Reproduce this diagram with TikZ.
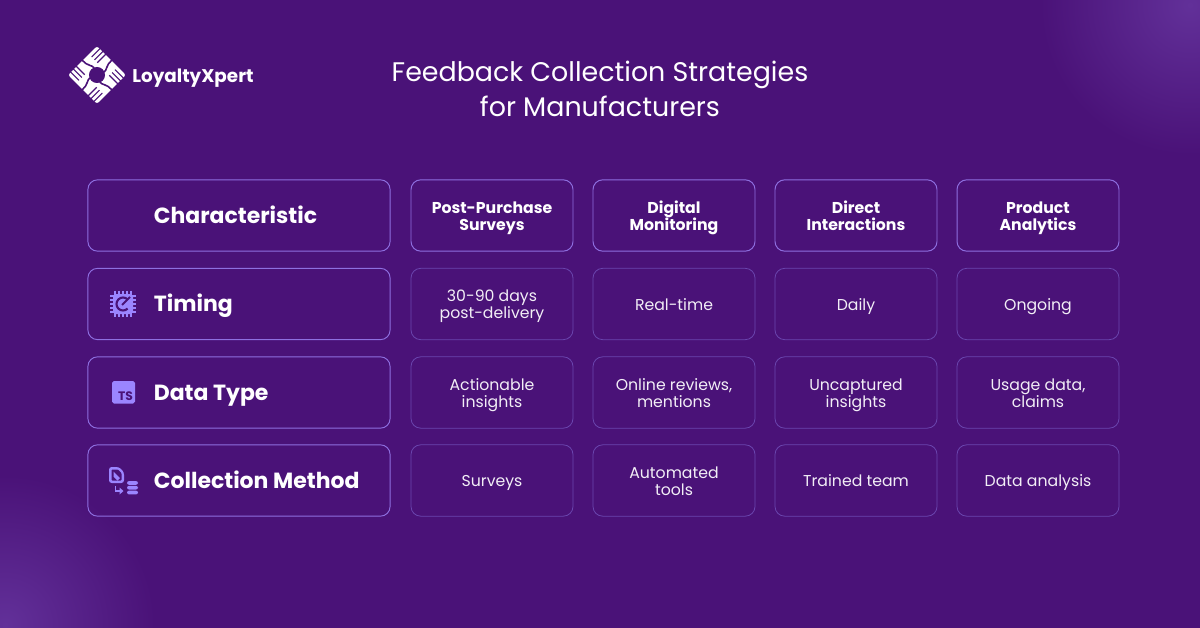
\documentclass[tikz,border=0pt]{standalone}
\usepackage{fontspec}
\setmainfont{Poppins}
\usetikzlibrary{positioning}
\definecolor{bgpurple}{HTML}{4A1278}
\definecolor{glowpurple}{HTML}{623099}
\definecolor{headedge}{HTML}{8E6FE0}
\definecolor{celledge}{HTML}{6A45AE}
\definecolor{iconblue}{HTML}{9B85FF}
\tikzset{
	headbox/.style={draw=headedge, line width=0.55pt, rounded corners=5.5pt, minimum height=40.6pt, inner sep=0pt, align=center, text=white, font=\fontsize{8.95}{9.7}\selectfont\bfseries, execute at begin node=\rule{0pt}{9.6pt}, execute at end node=\vphantom{dy}},
	cellbox/.style={draw=celledge, line width=0.45pt, rounded corners=5.5pt, minimum width=92.2pt, minimum height=40.6pt, inner sep=0pt, align=center, text=white!93!bgpurple, font=\fontsize{8.95}{9.7}\selectfont, execute at begin node=\rule{0pt}{9.6pt}, execute at end node=\vphantom{dy}},
	twoline/.style={execute at begin node=\rule{0pt}{19.3pt}},
	rowlabel/.style={text=white, inner sep=0pt, anchor=west, font=\fontsize{12.5}{15}\selectfont\bfseries, execute at begin node=\vphantom{dy}},
	icon/.style={fill=iconblue, draw=none},
}
\begin{document}
\begin{tikzpicture}[x=0.02cm, y=-0.02cm]
	\useasboundingbox (0,0) rectangle (1200,628);
	
	% background and corner glow
	\fill[bgpurple] (0,0) rectangle (1200,628);
	\begin{scope}
		\clip (0,0) rectangle (1200,628);
		\shade[inner color=glowpurple, outer color=bgpurple] (1190,5) circle (150);
		\shade[inner color=glowpurple, outer color=bgpurple] (5,625) circle (150);
	\end{scope}
	
	% logo
	\begin{scope}[shift={(97,75)}, rotate=45]
		\fill[white, rounded corners=1.5pt] (-20.5,-20.5) rectangle (20.5,20.5);
		\fill[bgpurple] (0,0) circle (8);
		\foreach \a in {0,90,180,270} {
			\begin{scope}[rotate=\a]
				\foreach \y in {-16.5,-12.5,-8.5} {
					\draw[bgpurple, line width=0.65pt] (21,\y) -- (9,\y);
				}
				\draw[bgpurple, line width=0.9pt] (0,-21) .. controls (-1,-14) and (4,-10) .. (3,-7);
			\end{scope}
		}
	\end{scope}
	\node[text=white, inner sep=0pt, anchor=west, font=\fontsize{10.45}{13}\selectfont\bfseries] (brand) at (132,78) {LoyaltyXpert};
	
	% title
	\node[text=white, align=center, font=\fontsize{15.3}{20}\selectfont] (title) at (600,89) {Feedback Collection Strategies\\for Manufacturers};
	
	% left column
	\node[headbox, minimum width=172pt] (char) at (239,215.5) {};
	\node[headbox, minimum width=172pt] (timing) at (239,304) {};
	\node[headbox, minimum width=172pt] (datatype) at (239,392.5) {};
	\node[headbox, minimum width=172pt] (method) at (239,480.5) {};
	\node[rowlabel] (charlabel) at (153.5,217.5) {Characteristic};
	\node[rowlabel] (timinglabel) at (153.5,306) {Timing};
	\node[rowlabel] (typelabel) at (153.5,395) {Data Type};
	\node[rowlabel] (methodlabel) at (153.5,483) {Collection Method};
	
	% header row
	\node[headbox, twoline, minimum width=92.2pt] (surveys) at (492,215.5) {Post-Purchase\\Surveys};
	\node[headbox, twoline, minimum width=92.2pt] (digital) at (674,215.5) {Digital\\Monitoring};
	\node[headbox, twoline, minimum width=92.2pt] (direct) at (856,215.5) {Direct\\Interactions};
	\node[headbox, twoline, minimum width=92.2pt] (analytics) at (1038,215.5) {Product\\Analytics};
	
	% timing
	\node[cellbox, twoline] (t1) at (492,304) {30-90 days\\post-delivery};
	\node[cellbox] (t2) at (674,304) {Real-time};
	\node[cellbox] (t3) at (856,304) {Daily};
	\node[cellbox] (t4) at (1038,304) {Ongoing};
	
	% data type
	\node[cellbox, twoline] (d1) at (492,392.5) {Actionable\\insights};
	\node[cellbox, twoline] (d2) at (674,392.5) {Online reviews,\\mentions};
	\node[cellbox, twoline] (d3) at (856,392.5) {Uncaptured\\insights};
	\node[cellbox, twoline] (d4) at (1038,392.5) {Usage data,\\claims};
	
	% collection method
	\node[cellbox] (m1) at (492,480.5) {Surveys};
	\node[cellbox, twoline] (m2) at (674,480.5) {Automated\\tools};
	\node[cellbox] (m3) at (856,480.5) {Trained team};
	\node[cellbox] (m4) at (1038,480.5) {Data analysis};
	
	% timing icon
	\fill[icon, rounded corners=1pt] (113,294) rectangle (133,314);
	\foreach \s in {-8,-4,0,4,8} {
		\draw[iconblue, line width=0.7pt] (123+\s,290.5) -- (123+\s,317);
		\draw[iconblue, line width=0.7pt] (110,304+\s) -- (136,304+\s);
	}
	\draw[bgpurple, line width=1.2pt] (127.6,308.6) arc (45:315:6.5);
	\draw[bgpurple, line width=1.2pt] (122,305) -- (130,297);
	
	% data type icon
	\fill[icon, rounded corners=1pt] (112,381) rectangle (135,403.5);
	\node[text=bgpurple, inner sep=0pt, font=\fontsize{7}{7}\selectfont\bfseries] (tsmark) at (125.5,396) {TS};
	
	% collection method icon
	\fill[icon, rounded corners=1.5pt] (109,467) -- (119,467) -- (124,472) -- (124,483) -- (109,483) -- cycle;
	\fill[bgpurple, rounded corners=0.5pt] (111.5,469.5) -- (118,469.5) -- (121.5,473) -- (121.5,480.5) -- (111.5,480.5) -- cycle;
	\fill[icon] (113.5,471.5) -- (120,478) -- (117.5,480.5) -- (113.5,476.5) -- cycle;
	\draw[iconblue, line width=1.1pt] (115.5,486) -- (115.5,491) -- (120,491);
	\fill[icon] (119.5,487.5) -- (123.5,491) -- (119.5,494.5) -- cycle;
	\foreach \y in {481,485.8,490.6} {
		\fill[icon, rounded corners=1.2pt] (127,\y) rectangle (138,\y+3.8);
	}
\end{tikzpicture}
\end{document}
